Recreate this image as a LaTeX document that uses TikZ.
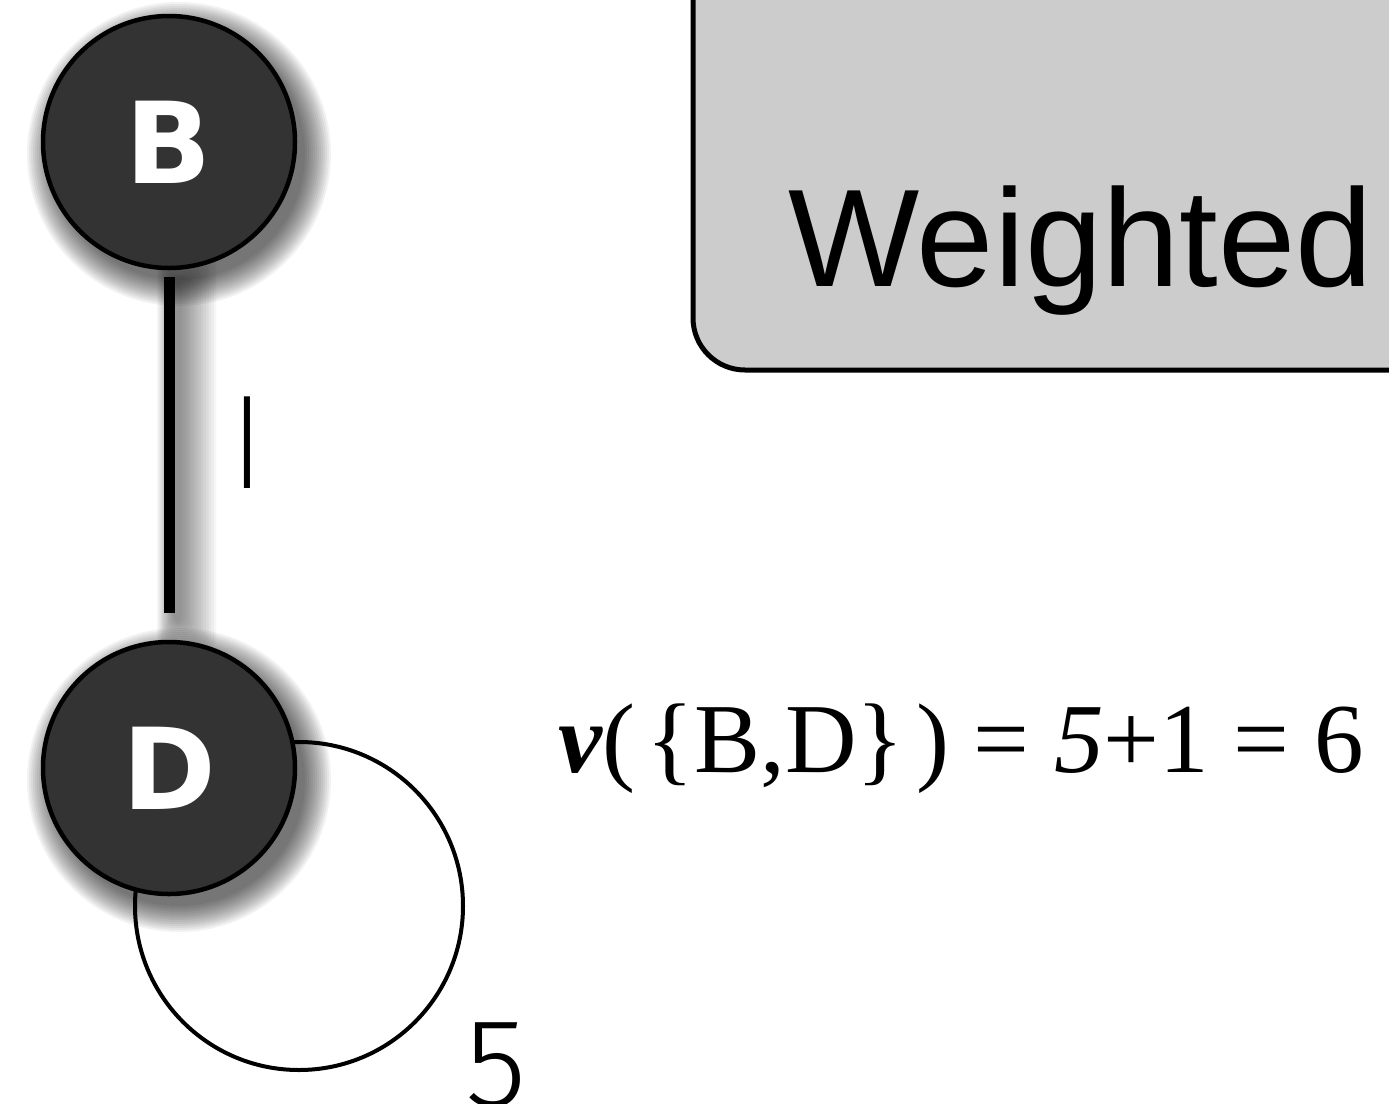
\documentclass[tikz,border=0pt]{standalone}
\usepackage{fontspec}
\setmainfont{Liberation Serif}
\newfontfamily\headfont{Liberation Sans}
\newfontfamily\letterfont{DejaVu Sans}
\IfFontExistsTF{Lato Light}
  {\newfontfamily\weightfont{Lato Light}}
  {\newfontfamily\weightfont{Liberation Sans}}
\IfFontExistsTF{Fira Sans Light}
  {\newfontfamily\digitfont{Fira Sans Light}}
  {\newfontfamily\digitfont{Liberation Sans}}
\definecolor{nodegray}{HTML}{333333}
\definecolor{panelgray}{HTML}{CCCCCC}

% soft drop shadow of a disc, cast to the lower right: centre x, centre y, radius
\newcommand\discshadow[3]{%
  \foreach \k in {1,...,14}{%
    \fill[black, opacity=0.05] (#1+10, #2+12) circle[radius=#3+28-2*\k];
  }}

\begin{document}
\begin{tikzpicture}[x=1pt, y=-1pt,
  vertex/.style={circle, draw=black, line width=4.5pt, fill=nodegray,
    minimum size=252pt, inner sep=0pt, text=white,
    font=\letterfont\bfseries\fontsize{113}{113}\selectfont},
  link/.style={line width=11pt, black},
  loopline/.style={line width=4pt, black},
  panel/.style={draw=black, line width=5pt, fill=panelgray, rounded corners=52pt},
  weight/.style={inner sep=0pt, font=\weightfont\fontsize{126}{126}\selectfont},
  digitweight/.style={inner sep=0pt, font=\digitfont\fontsize{126}{126}\selectfont},
  title/.style={inner sep=0pt, font=\headfont\fontsize{139}{139}\selectfont},
  formula/.style={inner sep=0pt, font=\fontsize{99}{99}\selectfont}]

\useasboundingbox (0,0) rectangle (1389,1103);
\clip (0,0) rectangle (1389,1103);
\fill[white] (0,0) rectangle (1389,1103);

% heading panel, running off the top and right edges
\draw[panel] (693,-80) rectangle (1480,370);
\node[title, anchor=base west] (head) at (788,286) {Weighted};

% self loop of D (drawn first so D covers it)
\coordinate (loopc) at (299,906);
\draw[loopline] (loopc) circle[radius=164];

% shadows of the edge and of the two vertices
\foreach \k in {1,...,14}{%
  \fill[black, opacity=0.035, rounded corners=8pt]
    (176-1.2*\k-2, 285-2*\k) rectangle (176+2.6*\k+4, 621+2*\k);
}
\discshadow{169}{142}{126}
\discshadow{169}{768}{126}

% vertices
\node[vertex] (B) at (169,142) {B};
\node[vertex] (D) at (169,768) {D};

% edge B--D and its weight
\draw[link, shorten <=7pt, shorten >=27pt] (B) -- (D);
\node[weight, anchor=base] (w1) at (247.5,488) {l};
\node[digitweight, anchor=base] (w5) at (496,1106) {5};

% value of the set
\node[formula, anchor=base west] (val) at (558,772)
  {{\bfseries\itshape ν}(\hspace{0.12em}\{B,D\}\hspace{0.12em}) = \textit{5}+1 = 6};
\end{tikzpicture}
\end{document}
